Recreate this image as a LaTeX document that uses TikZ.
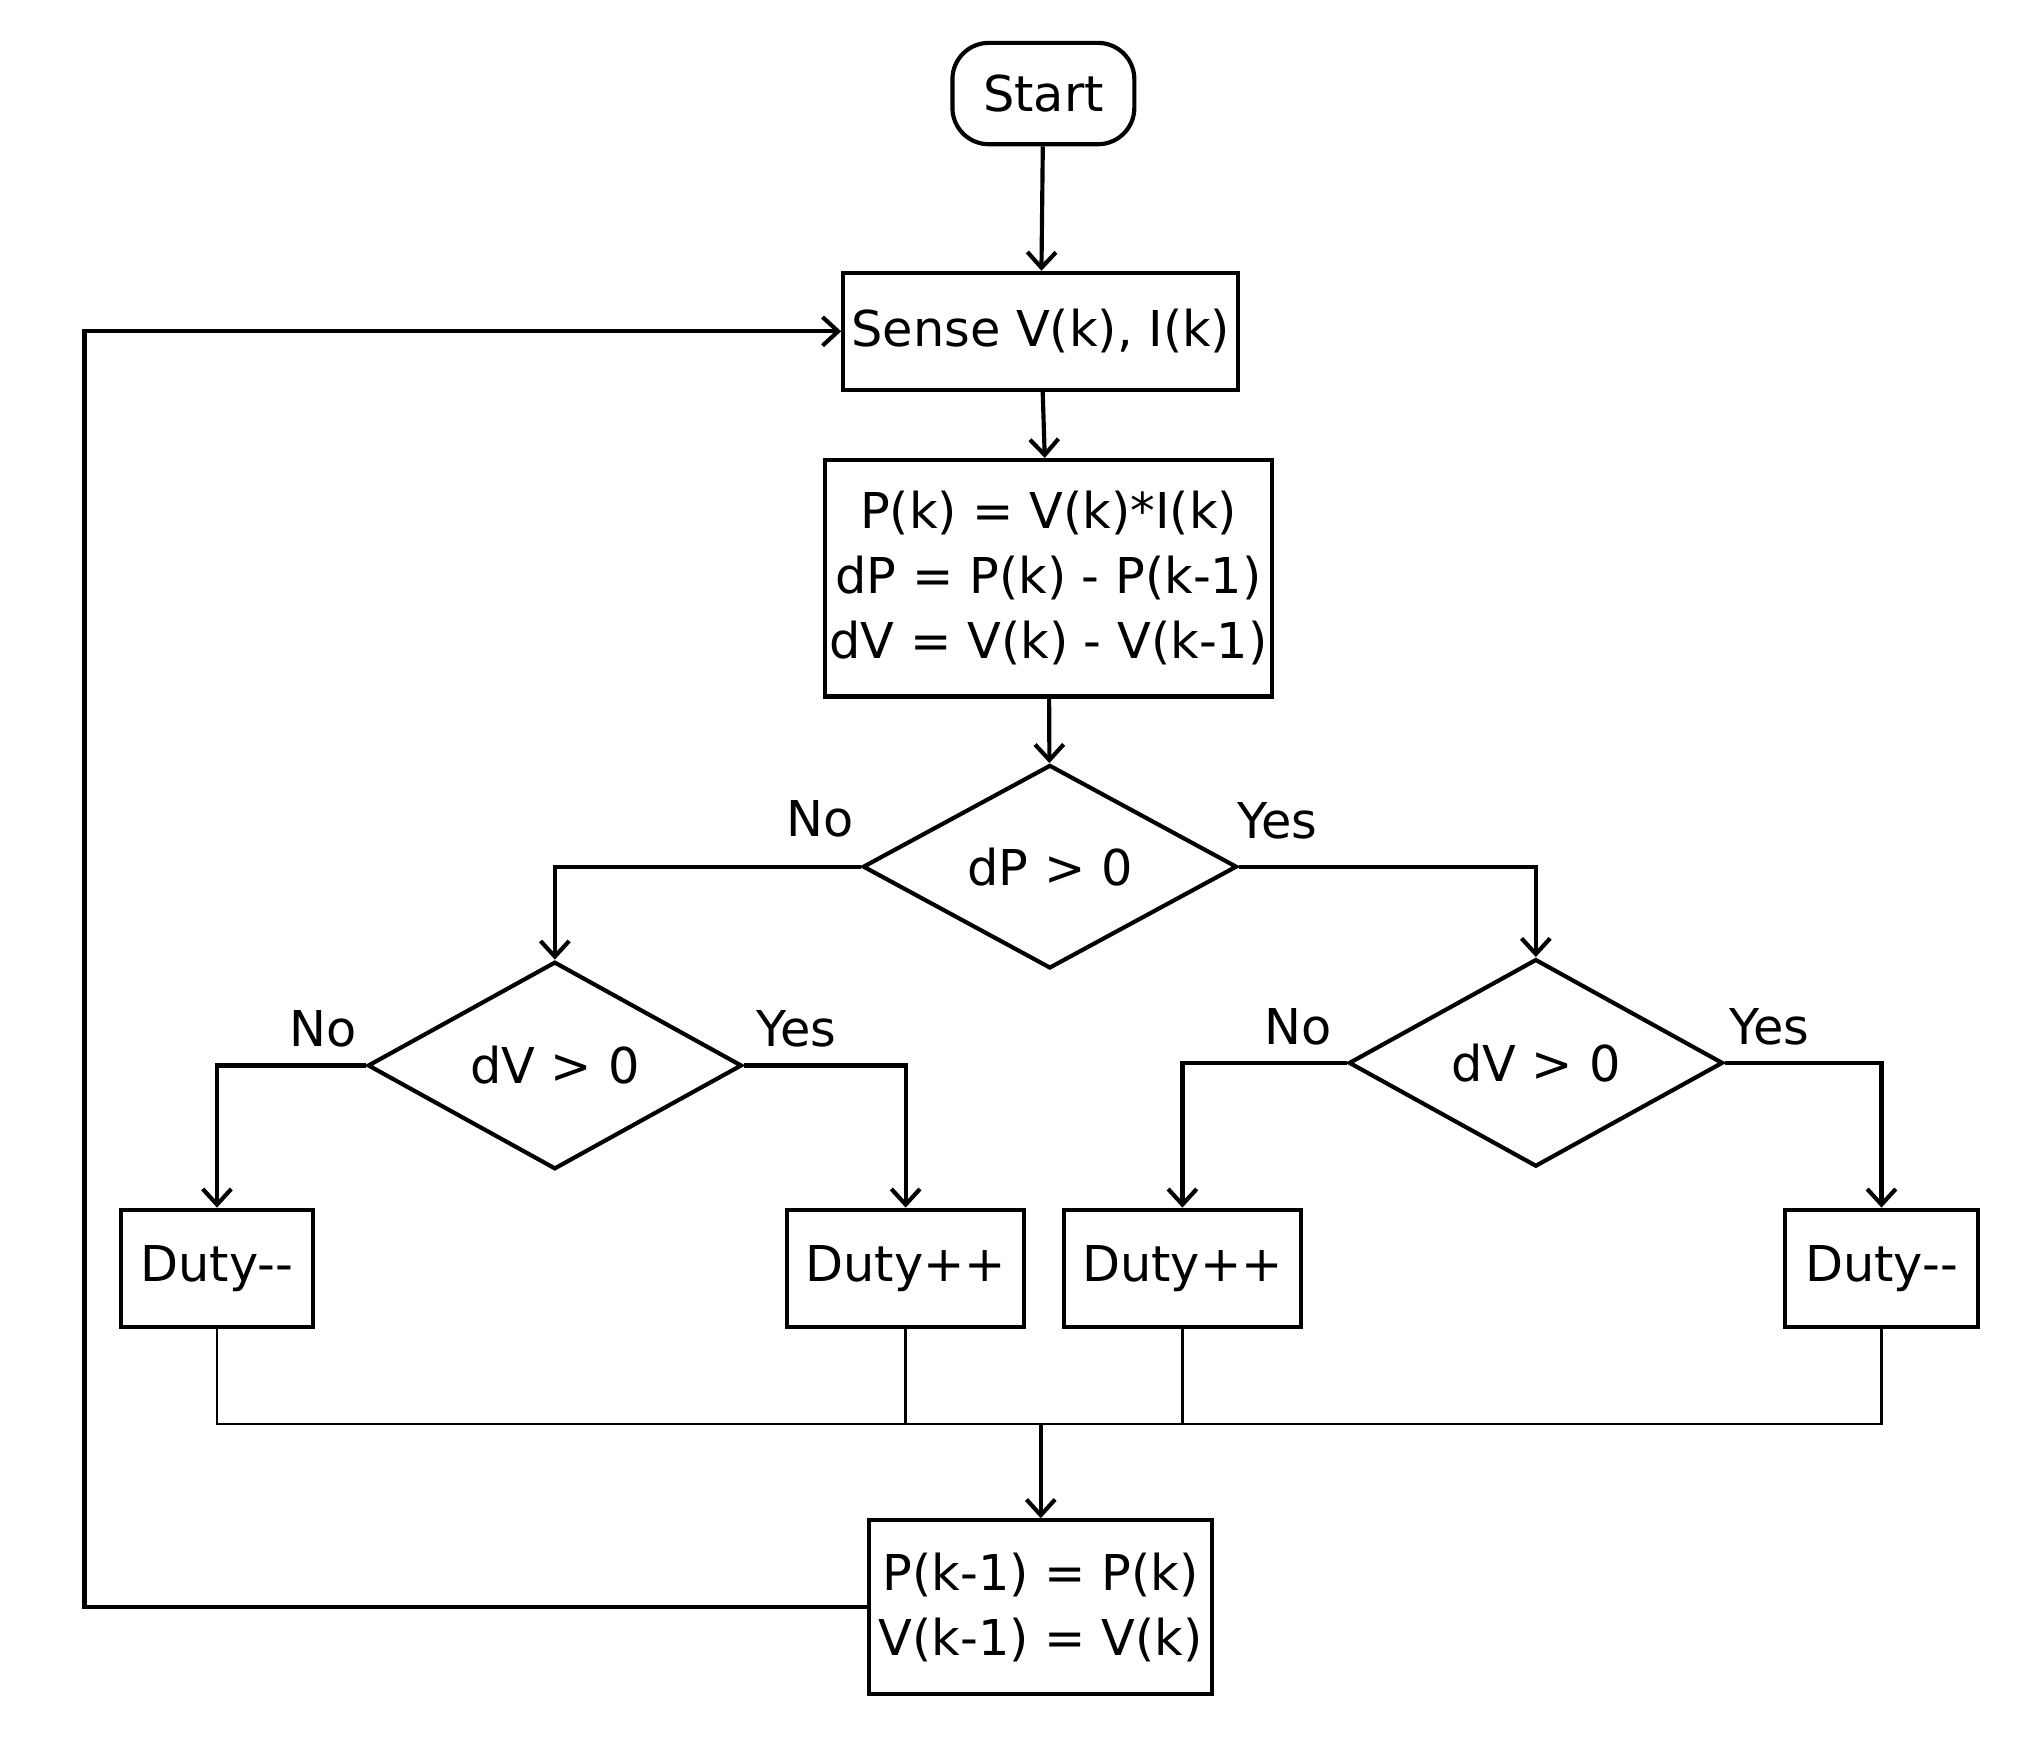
\documentclass[tikz,border=0pt]{standalone}
\usepackage{fontspec}
\setmainfont{DejaVu Sans}
\usetikzlibrary{shapes.geometric,arrows.meta}
\begin{document}
\begin{tikzpicture}[x=0.5pt,y=-0.5pt,
  font=\fontsize{19}{25}\selectfont,
  box/.style={draw,line width=1.6pt,rectangle,inner sep=0pt,align=center},
  dec/.style={draw,line width=1.6pt,diamond,inner sep=0pt,minimum width=144pt,minimum height=76pt},
  flow/.style={line width=1.6pt,-{Straight Barb[length=6pt,width=11pt]}},
  bus/.style={line width=1pt}]
\useasboundingbox (0,0) rectangle (1560,1345);

% Nodes
\node[box,rounded corners=14pt,minimum width=70pt,minimum height=39pt] (start) at (803,72) {Start};
\node[box,minimum width=152pt,minimum height=45pt] (sense) at (801,255) {Sense V(k), I(k)};
\node[box,minimum width=172pt,minimum height=91pt] (calc) at (807,445) {P(k) = V(k)*I(k)\\dP = P(k) - P(k-1)\\dV = V(k) - V(k-1)};
\node[dec] (dp) at (808,667) {dP > 0};
\node[dec] (dvl) at (427,820) {dV > 0};
\node[dec] (dvr) at (1182,818) {dV > 0};
\node[box,minimum width=74pt,minimum height=45pt] (dm1) at (167,976) {Duty-{}-};
\node[box,minimum width=91pt,minimum height=45pt] (dp1) at (697,976) {Duty++};
\node[box,minimum width=91pt,minimum height=45pt] (dp2) at (910,976) {Duty++};
\node[box,minimum width=74pt,minimum height=45pt] (dm2) at (1448,976) {Duty-{}-};
\node[box,minimum width=132pt,minimum height=67pt] (upd) at (801,1237) {P(k-1) = P(k)\\V(k-1) = V(k)};
\coordinate (join) at (801,1096);

% Connectors
\draw[flow] (start) -- (sense);
\draw[flow] (sense) -- (calc);
\draw[flow] (calc) -- (dp);
\draw[flow] (dp.west) -| (dvl.north);
\draw[flow] (dp.east) -| (dvr.north);
\draw[flow] (dvl.west) -| (dm1.north);
\draw[flow] (dvl.east) -| (dp1.north);
\draw[flow] (dvr.west) -| (dp2.north);
\draw[flow] (dvr.east) -| (dm2.north);
\draw[bus] (dm1.south) |- (dm2.south |- join) -- (dm2.south);
\draw[bus] (dp1.south) -- (dp1.south |- join);
\draw[bus] (dp2.south) -- (dp2.south |- join);
\draw[flow] (join) -- (upd);
\draw[flow] (upd.west) -| (65,255) -- (sense.west);

% Labels
\node (n1) at (631,630) {No};
\node (y1) at (983,632) {Yes};
\node (n2) at (249,792) {No};
\node (y2) at (613,792) {Yes};
\node (n3) at (999,790) {No};
\node (y3) at (1362,790) {Yes};
\end{tikzpicture}
\end{document}
